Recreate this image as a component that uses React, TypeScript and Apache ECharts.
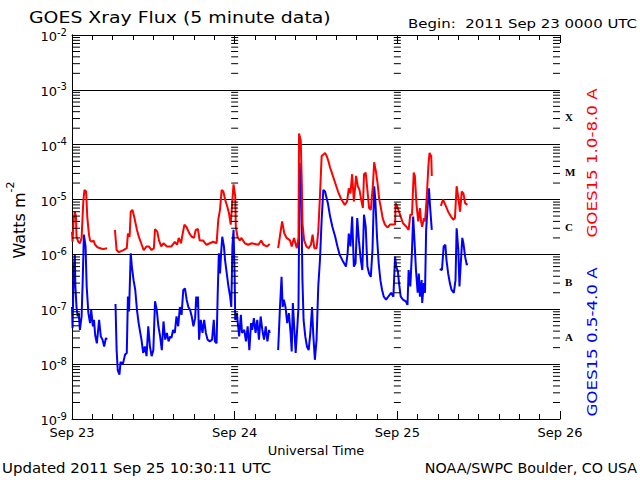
import { useEffect, useRef } from 'react';
import * as echarts from 'echarts';

// ---- axis / label data ----
const dayLabels = ['Sep 23', 'Sep 24', 'Sep 25', 'Sep 26'];
const dayTicks = [0, 1440, 2880, 4320]; // minutes since 2011-09-23 00:00 UTC
const flareClasses = ['', 'A', 'B', 'C', 'M', 'X', ''];
const decadeExponents = [-9, -8, -7, -6, -5, -4, -3];
const minorMantissas = [2, 3, 4, 5, 6, 7, 8, 9];

// ---- GOES15 1.0-8.0 A (long channel), minutes since start / W m^-2 ----
const redTime = [
  0, 5, 15, 25, 35, 40, 55, 70, 85, 100, 110, 125, 135, 150, 160, 175, 190, 205, 225, 250, 275, 310,
  345,
  380, 395, 415, 455, 485, 495, 510, 520, 535, 550, 575, 595, 615, 635, 660, 680, 705, 725, 735, 755, 770, 790,
  810, 840, 880, 910, 930, 945, 965, 980, 995, 1015, 1040, 1060, 1080, 1095, 1115, 1130, 1160, 1190, 1220, 1250,
  1280, 1295, 1310, 1325, 1340, 1355, 1375, 1390, 1405, 1420, 1430, 1445, 1450, 1465, 1485, 1500, 1530, 1560,
  1590, 1620, 1650, 1675, 1695, 1725, 1750,
  1790,
  1825, 1840, 1860, 1880, 1900, 1930, 1945, 1965, 1990, 2005, 2010, 2025, 2035, 2040, 2055, 2075, 2095, 2115,
  2130, 2145, 2165, 2180, 2195, 2210, 2225, 2240, 2255, 2270, 2285, 2300, 2330, 2355, 2385, 2415, 2435, 2450,
  2465, 2480, 2495, 2515, 2530, 2545, 2560, 2575, 2585, 2600, 2615, 2630, 2645, 2665, 2675, 2690, 2705, 2720,
  2735, 2750, 2770, 2795, 2815, 2845, 2860, 2865, 2880, 2895, 2910, 2930, 2960, 2980, 2995, 3010, 3025, 3035,
  3050, 3065, 3080, 3090, 3100, 3115, 3125, 3140, 3155, 3165, 3180, 3185,
  3225,
  3265, 3285, 3305, 3330, 3355, 3375, 3390, 3405, 3420, 3435, 3450, 3465, 3480, 3500,
];
const redFlux = [
  2.6e-6, 1.7e-6, 4.3e-6, 6.0e-6, 4.9e-6, 2.1e-6, 1.7e-6, 1.6e-6, 2.0e-6, 9.2e-6, 1.5e-5, 1.4e-5, 4.9e-6, 2.3e-6,
  1.8e-6, 1.7e-6, 1.8e-6, 1.5e-6, 1.35e-6, 1.3e-6, 1.25e-6, 1.3e-6,
  null,
  2.8e-6, 1.2e-6, 1.1e-6, 1.2e-6, 1.3e-6, 2.4e-6, 2.1e-6, 6.0e-6, 6.5e-6, 4.9e-6, 2.8e-6, 2.0e-6, 1.55e-6, 1.2e-6,
  1.4e-6, 1.4e-6, 1.2e-6, 1.3e-6, 2.9e-6, 2.6e-6, 1.8e-6, 1.4e-6,
  1.6e-6, 1.4e-6, 1.4e-6, 1.7e-6, 1.5e-6, 2.0e-6, 1.6e-6, 2.4e-6, 3.5e-6, 3.1e-6, 2.4e-6, 2.1e-6, 2.0e-6, 2.8e-6,
  2.9e-6, 1.8e-6, 1.8e-6, 1.5e-6, 1.6e-6, 1.7e-6,
  1.6e-6, 4.3e-6, 6.5e-6, 1.5e-5, 1.4e-5, 1.0e-5, 7.4e-6, 5.6e-6, 3.5e-6, 1.0e-5, 1.9e-5, 1.15e-5, 3.2e-6, 2.1e-6,
  1.8e-6, 2.0e-6, 1.6e-6, 1.5e-6,
  1.6e-6, 1.55e-6, 1.5e-6, 1.8e-6, 1.5e-6, 1.4e-6, 1.55e-6,
  null,
  1.3e-6, 2.1e-6, 4.0e-6, 2.4e-6, 2.0e-6, 1.8e-6, 1.4e-6, 2.0e-6, 1.3e-6, 2.0e-6, 1.6e-4, 1.2e-4, 1.75e-5, 3.7e-6,
  1.8e-6, 1.4e-6, 1.3e-6, 1.5e-6,
  2.3e-6, 1.3e-6, 1.3e-6, 2.6e-6, 1.15e-5, 6.2e-5, 6.6e-5, 7.1e-5, 6.2e-5, 5.0e-5, 3.8e-5, 3.1e-5, 2.0e-5, 1.4e-5,
  1.0e-5, 8.0e-6, 9.2e-6, 1.6e-5,
  1.3e-5, 2.9e-5, 9.2e-6, 2.7e-5, 1.75e-5, 1.5e-5, 1.0e-5, 7.0e-6, 2.9e-5, 3.1e-5, 1.5e-5, 7.0e-6, 6.5e-6, 2.0e-5,
  4.8e-5, 3.3e-5, 2.0e-5, 1.0e-5,
  7.0e-6, 4.6e-6, 3.5e-6, 3.1e-6, 3.5e-6, 3.5e-6, 3.5e-6, 8.6e-6, 7.4e-6, 6.0e-6, 4.9e-6, 3.7e-6, 3.2e-6, 2.8e-6,
  5.3e-6, 5.3e-6, 3.1e-5, 2.7e-5,
  8.0e-6, 4.0e-6, 7.0e-6, 4.0e-6, 3.2e-6, 4.6e-6, 4.0e-6, 1.07e-5, 4.1e-5, 7.1e-5, 6.2e-5, 2.7e-5,
  null,
  7.7e-6, 1.0e-5, 8.0e-6, 6.0e-6, 4.9e-6, 4.3e-6, 4.6e-6, 1.75e-5, 1.07e-5, 6.0e-6, 1.4e-5, 1.3e-5, 8.6e-6, 8.0e-6,
];

// ---- GOES15 0.5-4.0 A (short channel) ----
const blueTime = [
  0, 5, 15, 25, 30, 40, 50, 60, 70, 85, 95, 105, 120, 130, 145, 160, 170, 185, 195, 205, 220, 240, 255, 270, 285,
  300, 310,
  345,
  385, 395, 405, 420, 430, 450, 470, 485, 495, 505, 520, 530, 545, 560, 575, 590, 600, 615, 630, 645, 660, 675,
  690, 705, 720, 735, 750, 765, 780, 795, 810, 825, 840, 855, 870, 880, 895, 910, 925, 940, 955, 970, 985, 1000,
  1015, 1030, 1045, 1060, 1075, 1090, 1100, 1110, 1115, 1125, 1140, 1155, 1170, 1185, 1200, 1220, 1240, 1255,
  1265, 1280, 1290, 1300, 1310, 1320, 1330, 1345, 1355, 1370, 1385, 1400, 1410, 1420, 1430, 1440, 1445, 1460,
  1465, 1480, 1495, 1505, 1525, 1540, 1555, 1570, 1585, 1595, 1610, 1625, 1640, 1655, 1670, 1685, 1700, 1715,
  1730, 1745, 1750,
  1790,
  1825, 1840, 1855, 1865, 1875, 1890, 1905, 1920, 1935, 1945, 1955, 1970, 1980, 1995, 2005, 2015, 2030, 2040,
  2050, 2065, 2080, 2095, 2110, 2125, 2135, 2150, 2165, 2180, 2195, 2210, 2225, 2240, 2265, 2285, 2305, 2330,
  2350, 2370, 2400, 2425, 2440, 2450, 2465, 2480, 2495, 2510, 2525, 2540, 2555, 2570, 2585, 2600, 2615, 2630,
  2645, 2660, 2675, 2685, 2700, 2715, 2730, 2745, 2760, 2780, 2800, 2825, 2845, 2860, 2870, 2885, 2895, 2910,
  2930, 2955, 2970, 2980, 2995, 3010, 3020, 3030, 3045, 3060, 3070, 3080, 3095, 3100, 3115, 3125, 3135, 3150,
  3160, 3170, 3185,
  3225,
  3255, 3275, 3290, 3305, 3315, 3330, 3345, 3360, 3380, 3395, 3405, 3420, 3430, 3440, 3455, 3465, 3480, 3495, 3500,
];
const blueFlux = [
  1.1e-7, 4.5e-8, 5.2e-7, 9.8e-7, 2.6e-7, 1.1e-7, 7.4e-8, 8.5e-8, 4.2e-8, 7.4e-8, 3.4e-7, 2.3e-6, 1.4e-6, 2.6e-7,
  8.5e-8, 5.6e-8, 9.8e-8, 4.9e-8, 6.4e-8, 3.4e-8, 2.4e-8, 6.4e-8, 3.2e-8, 2.8e-8, 2.1e-8,
  3.0e-8, 2.8e-8,
  null,
  1.25e-7, 1.8e-8, 7.8e-9, 6.4e-9, 1.1e-8, 1.0e-8, 1.5e-8, 1.6e-8, 1.7e-7, 9.1e-8, 1.05e-6, 6.0e-7, 3.4e-7, 2.25e-7,
  9.8e-8, 5.6e-8, 4.2e-8, 2.8e-8, 1.6e-8, 2.1e-8, 1.4e-8, 4.9e-8,
  2.1e-8, 1.4e-8, 1.8e-8, 1.4e-7, 9.8e-8, 4.9e-8, 3.2e-8, 1.8e-8, 6.0e-8, 2.8e-8, 3.7e-8, 2.6e-8, 3.2e-8, 3.0e-8,
  4.2e-8, 3.7e-8, 7.4e-8, 4.9e-8, 1.1e-7, 7.9e-8, 2.25e-7, 2.4e-7,
  1.5e-7, 1.1e-7, 9.8e-8, 7.4e-8, 4.9e-8, 6.9e-8, 1.7e-7, 1.1e-7, 1.7e-7, 2.8e-8, 6.4e-8, 3.7e-8, 6.4e-8, 3.7e-8,
  2.8e-8, 2.6e-8, 2.8e-8, 6.4e-8,
  2.6e-8, 2.4e-8, 2.0e-7, 1.05e-6, 4.5e-7, 1.05e-6, 2.1e-6, 1.4e-6, 7.9e-7, 4.5e-7, 2.6e-7, 1.7e-7, 1.1e-7, 1.4e-6,
  2.8e-6, 3.9e-7, 6.4e-8, 8.5e-8,
  6.4e-8, 3.2e-8, 7.9e-8, 3.7e-8, 4.2e-8, 2.6e-8, 4.9e-8, 1.8e-8, 5.6e-8, 4.2e-8, 6.9e-8, 3.7e-8, 6.4e-8, 2.8e-8,
  7.4e-8, 4.2e-8, 2.8e-8, 4.9e-8,
  2.6e-8, 4.2e-8, 3.7e-8,
  null,
  1.8e-8, 9.8e-8, 3.9e-7, 1.1e-7, 1.5e-7, 1.1e-7, 5.6e-8, 8.5e-8, 3.7e-8, 1.7e-8, 1.3e-7, 3.7e-8, 1.6e-8, 4.9e-8,
  1.1e-7, 4.7e-5, 1.0e-5, 3.4e-7,
  6.4e-8, 3.2e-8, 2.1e-8, 1.8e-8, 3.7e-8, 1.1e-7, 3.7e-8, 1.2e-8, 2.8e-8, 2.6e-7, 7.9e-7, 4.3e-6, 1.5e-5, 1.4e-5,
  8.6e-6, 4.9e-6, 3.2e-6, 2.1e-6,
  1.4e-6, 9.8e-7, 7.4e-7, 6.0e-7, 1.05e-6, 2.4e-6, 1.4e-6, 4.9e-6, 6.0e-7, 6.9e-7, 4.6e-6, 1.8e-6, 8.5e-7, 5.2e-7,
  5.3e-6, 3.2e-6, 6.0e-7, 4.5e-7,
  3.9e-7, 1.2e-6, 1.75e-5, 1.0e-5, 2.1e-6, 6.9e-7, 3.4e-7, 2.25e-7, 1.7e-7, 1.5e-7, 1.7e-7, 2.0e-7, 1.7e-7, 9.1e-7,
  6.0e-7, 4.9e-7, 3.0e-7, 1.7e-7,
  1.5e-7, 1.4e-7, 1.2e-7, 5.2e-7, 2.6e-7, 1.2e-6, 4.9e-6, 2.1e-6, 5.2e-7, 2.0e-7, 4.5e-7, 1.7e-7, 3.4e-7, 1.3e-7,
  3.0e-7, 2.0e-7, 2.8e-6, 8.6e-6,
  1.6e-5, 7.4e-6, 2.8e-6,
  null,
  5.4e-7, 5.2e-7, 1.4e-6, 1.5e-6, 7.9e-7, 4.5e-7, 3.0e-7, 2.25e-7, 2.0e-7, 3.4e-7, 3.0e-6, 1.2e-6, 2.6e-7, 6.0e-7,
  2.0e-6, 1.6e-6, 9.1e-7, 6.4e-7, 6.9e-7,
];

const FONT = 'DejaVu Sans';
const SERIF = 'Liberation Serif';

const toPairs = (t: number[], f: (number | null)[]) =>
  t.map((x, i) => [x, f[i] == null ? '-' : f[i]]);

const minorValues = decadeExponents.flatMap((e) => minorMantissas.map((m) => m * Math.pow(10, e)));

export default function App() {
  const ref = useRef<HTMLDivElement>(null);

  useEffect(() => {
    if (!ref.current) return;
    const chart = echarts.init(ref.current, null, { renderer: 'svg' });

    const xBase = {
      type: 'value',
      min: dayTicks[0],
      max: dayTicks[dayTicks.length - 1],
      interval: 1440,
      splitLine: { show: false },
      axisLine: { show: true, lineStyle: { color: '#000', width: 1 } },
      axisTick: { show: true, inside: true, length: 8, lineStyle: { color: '#000', width: 1 } },
      minorTick: { show: true, splitNumber: 8, length: 5, lineStyle: { color: '#000', width: 1 } },
    };

    const option: any = {
      animation: false,
      backgroundColor: '#fff',
      grid: { left: 72, top: 35, width: 488, height: 384 },
      xAxis: [
        {
          ...xBase,
          position: 'bottom',
          axisLabel: {
            show: true,
            margin: 7,
            color: '#000',
            fontFamily: FONT,
            fontSize: 13,
            formatter: (v: number) => dayLabels[Math.round(v / 1440)],
          },
          name: 'Universal Time',
          nameLocation: 'middle',
          nameGap: 24,
          nameTextStyle: { color: '#000', fontFamily: FONT, fontSize: 13 },
        },
        { ...xBase, position: 'top', axisLabel: { show: false } },
      ],
      yAxis: [
        {
          type: 'log',
          logBase: 10,
          min: 1e-9,
          max: 1e-2,
          splitNumber: 7,
          position: 'left',
          axisLine: { show: true, lineStyle: { color: '#000', width: 1 } },
          axisTick: { show: false },
          splitLine: { show: true, lineStyle: { color: '#000', width: 1 } },
          axisLabel: {
            margin: 5,
            color: '#000',
            formatter: (v: number) => `{b|10}{s|${Math.round(Math.log10(v))}}`,
            rich: {
              b: { fontFamily: FONT, fontSize: 13, color: '#000', lineHeight: 16, verticalAlign: 'bottom' },
              s: { fontFamily: FONT, fontSize: 10, color: '#000', lineHeight: 16, verticalAlign: 'top' },
            },
          },
        },
        {
          type: 'category',
          position: 'right',
          data: flareClasses,
          boundaryGap: true,
          axisLine: { show: true, lineStyle: { color: '#000', width: 1 } },
          axisTick: { show: false },
          splitLine: { show: false },
          axisLabel: {
            margin: 5,
            color: '#000',
            fontFamily: SERIF,
            fontWeight: 'bold',
            fontSize: 11,
          },
        },
      ],
      series: [
        {
          type: 'line',
          name: 'GOES15 0.5-4.0 A',
          xAxisIndex: 0,
          yAxisIndex: 0,
          data: toPairs(blueTime, blueFlux),
          showSymbol: false,
          symbol: 'none',
          connectNulls: false,
          lineStyle: { color: '#0000ff', width: 2 },
          itemStyle: { color: '#0000ff' },
          z: 3,
        },
        {
          type: 'line',
          name: 'GOES15 1.0-8.0 A',
          xAxisIndex: 0,
          yAxisIndex: 0,
          data: toPairs(redTime, redFlux),
          showSymbol: false,
          symbol: 'none',
          connectNulls: false,
          lineStyle: { color: '#ff0000', width: 2 },
          itemStyle: { color: '#ff0000' },
          z: 3,
        },
        {
          type: 'custom',
          xAxisIndex: 0,
          yAxisIndex: 0,
          silent: true,
          clip: false,
          z: 4,
          data: minorValues.map((v) => [0, v]),
          renderItem: (_params: any, api: any) => {
            const v = api.value(1);
            const children: any[] = [];
            dayTicks.forEach((t, i) => {
              const p = api.coord([t, v]);
              let x1: number;
              let x2: number;
              if (i === 0) {
                x1 = p[0];
                x2 = p[0] + 8;
              } else if (i === dayTicks.length - 1) {
                x1 = p[0] - 7;
                x2 = p[0];
              } else {
                x1 = p[0] - 3.5;
                x2 = p[0] + 3.5;
              }
              children.push({
                type: 'line',
                shape: { x1, y1: p[1], x2, y2: p[1] },
                style: { stroke: '#000', lineWidth: 1 },
              });
            });
            return { type: 'group', children };
          },
        },
      ],
      graphic: [
        {
          type: 'text',
          x: 29,
          y: 18,
          scaleX: 1.18,
          style: {
            text: 'GOES Xray Flux (5 minute data)',
            fontFamily: FONT,
            fontSize: 16,
            fill: '#000',
            verticalAlign: 'middle',
          },
        },
        {
          type: 'text',
          x: 637,
          y: 23,
          scaleX: 1.15,
          style: {
            text: 'Begin:  2011 Sep 23 0000 UTC',
            fontFamily: FONT,
            fontSize: 13,
            fill: '#000',
            align: 'right',
            verticalAlign: 'middle',
          },
        },
        {
          type: 'text',
          x: 2,
          y: 468,
          scaleX: 1.067,
          style: {
            text: 'Updated 2011 Sep 25 10:30:11 UTC',
            fontFamily: FONT,
            fontSize: 14,
            fill: '#000',
            verticalAlign: 'middle',
          },
        },
        {
          type: 'text',
          x: 637,
          y: 468,
          scaleX: 1.02,
          style: {
            text: 'NOAA/SWPC Boulder, CO USA',
            fontFamily: FONT,
            fontSize: 14,
            fill: '#000',
            align: 'right',
            verticalAlign: 'middle',
          },
        },
        {
          type: 'text',
          x: 592,
          y: 163,
          rotation: Math.PI / 2,
          scaleX: 1.19,
          style: {
            text: 'GOES15 1.0-8.0 A',
            fontFamily: FONT,
            fontSize: 14,
            fill: '#ff0000',
            align: 'center',
            verticalAlign: 'middle',
          },
        },
        {
          type: 'text',
          x: 592,
          y: 342,
          rotation: Math.PI / 2,
          scaleX: 1.19,
          style: {
            text: 'GOES15 0.5-4.0 A',
            fontFamily: FONT,
            fontSize: 14,
            fill: '#0000ff',
            align: 'center',
            verticalAlign: 'middle',
          },
        },
        {
          type: 'text',
          x: 16,
          y: 220,
          rotation: Math.PI / 2,
          style: {
            text: '{a|Watts m}{b|-2}',
            align: 'center',
            verticalAlign: 'middle',
            rich: {
              a: { fontFamily: FONT, fontSize: 16, fill: '#000', lineHeight: 22, verticalAlign: 'bottom' },
              b: { fontFamily: FONT, fontSize: 11, fill: '#000', lineHeight: 22, verticalAlign: 'top' },
            },
          },
        },
      ],
    };

    chart.setOption(option);
    return () => chart.dispose();
  }, []);

  return (
    <div
      ref={ref}
      style={{ position: 'absolute', left: 0, top: 0, width: 640, height: 480, background: '#fff' }}
    />
  );
}
